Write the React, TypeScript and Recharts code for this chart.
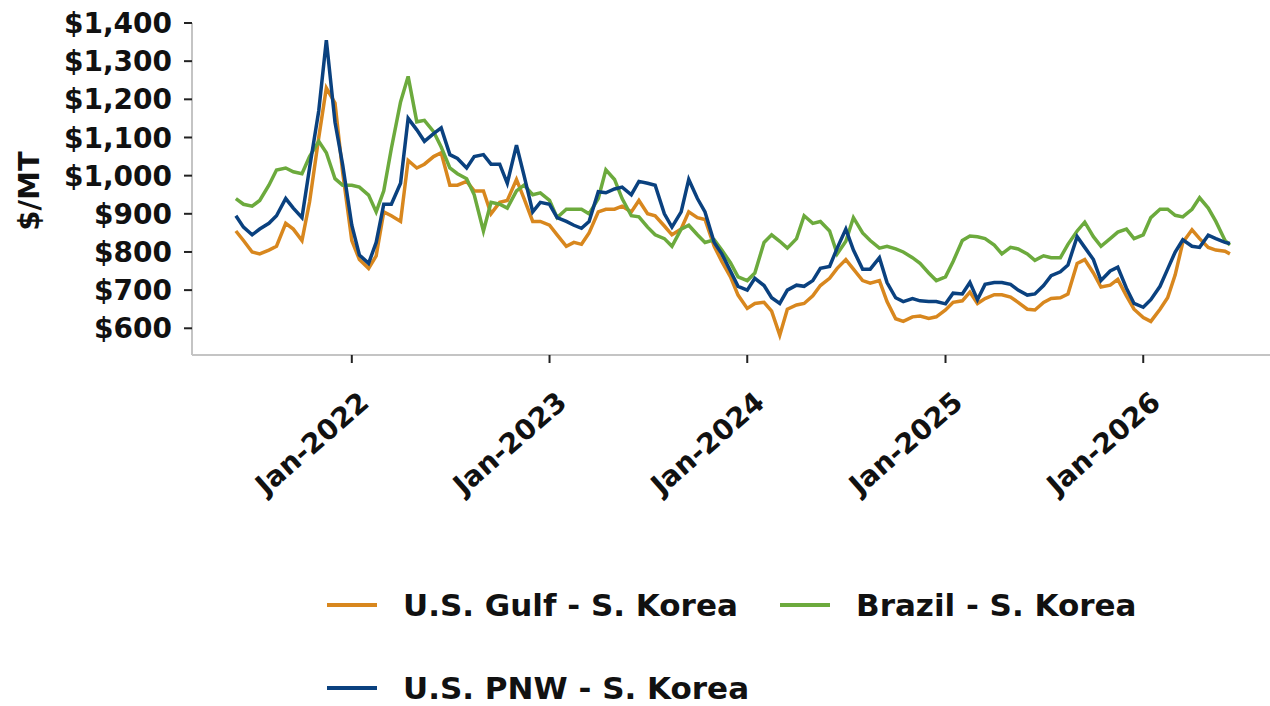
import React from 'react';
import { LineChart, Line, XAxis, YAxis, Label } from 'recharts';

const dates: string[] = [
  '2021-06-01','2021-06-15','2021-07-01','2021-07-15','2021-08-01','2021-08-15','2021-09-01','2021-09-15','2021-10-01','2021-10-15','2021-11-01','2021-11-15','2021-12-01','2021-12-15',
  '2022-01-01','2022-01-15','2022-02-01','2022-02-15','2022-03-01','2022-03-15','2022-04-01','2022-04-15','2022-05-01','2022-05-15','2022-06-01','2022-06-15','2022-07-01','2022-07-15','2022-08-01','2022-08-15','2022-09-01','2022-09-15','2022-10-01','2022-10-15','2022-11-01','2022-11-15','2022-12-01','2022-12-15',
  '2023-01-01','2023-01-15','2023-02-01','2023-02-15','2023-03-01','2023-03-15','2023-04-01','2023-04-15','2023-05-01','2023-05-15','2023-06-01','2023-06-15','2023-07-01','2023-07-15','2023-08-01','2023-08-15','2023-09-01','2023-09-15','2023-10-01','2023-10-15','2023-11-01','2023-11-15','2023-12-01','2023-12-15',
  '2024-01-01','2024-01-15','2024-02-01','2024-02-15','2024-03-01','2024-03-15','2024-04-01','2024-04-15','2024-05-01','2024-05-15','2024-06-01','2024-06-15','2024-07-01','2024-07-15','2024-08-01','2024-08-15','2024-09-01','2024-09-15','2024-10-01','2024-10-15','2024-11-01','2024-11-15','2024-12-01','2024-12-15',
  '2025-01-01','2025-01-15','2025-02-01','2025-02-15','2025-03-01','2025-03-15','2025-04-01','2025-04-15','2025-05-01','2025-05-15','2025-06-01','2025-06-15','2025-07-01','2025-07-15','2025-08-01','2025-08-15','2025-09-01','2025-09-15','2025-10-01','2025-10-15','2025-11-01','2025-11-15','2025-12-01','2025-12-15',
  '2026-01-01','2026-01-15','2026-02-01','2026-02-15','2026-03-01','2026-03-15','2026-04-01','2026-04-15','2026-05-01','2026-05-15','2026-06-01','2026-06-10',
];

const gulfKorea: number[] = [
  855, 830, 800, 795, 805, 815, 875, 860, 830, 931, 1100, 1230, 1190, 1010,
  830, 780, 757, 790, 905, 895, 880, 1040, 1020, 1030, 1050, 1060, 975, 975, 985, 960, 960, 900, 930, 935, 990, 940, 880, 880,
  870, 845, 815, 825, 820, 850, 905, 912, 912, 920, 905, 935, 900, 895, 868, 845, 860, 905, 890, 885, 815, 775, 735, 687,
  652, 665, 668, 645, 582, 650, 661, 665, 685, 712, 731, 757, 780, 755, 725, 718, 725, 670, 625, 618, 630, 632, 626, 630,
  648, 668, 672, 695, 665, 678, 688, 688, 682, 668, 650, 648, 668, 678, 680, 690, 770, 780, 745, 708, 713, 728, 685, 650,
  628, 618, 650, 680, 740, 825, 858, 835, 812, 805, 802, 795,
];

const brazilKorea: number[] = [
  940, 925, 920, 935, 975, 1015, 1020, 1010, 1005, 1050, 1090, 1060, 992, 975,
  975, 970, 949, 905, 960, 1071, 1193, 1260, 1141, 1145, 1115, 1075, 1020, 1005, 992, 950, 855, 930, 925, 915, 960, 975, 950, 955,
  935, 890, 912, 912, 912, 900, 940, 1015, 990, 940, 895, 892, 865, 845, 835, 815, 860, 870, 845, 825, 832, 805, 772, 735,
  725, 745, 825, 845, 828, 810, 835, 895, 875, 880, 855, 795, 828, 890, 850, 830, 810, 815, 808, 800, 785, 770, 745, 725,
  735, 775, 830, 842, 840, 835, 818, 795, 812, 808, 795, 778, 790, 785, 785, 820, 855, 878, 840, 815, 835, 852, 860, 835,
  845, 890, 912, 912, 896, 892, 912, 942, 915, 880, 830, 818,
];

const pnwKorea: number[] = [
  895, 865, 845, 860, 875, 895, 940, 915, 890, 1020, 1170, 1355, 1140, 1030,
  870, 792, 770, 825, 925, 925, 980, 1150, 1120, 1090, 1110, 1125, 1055, 1045, 1020, 1050, 1055, 1030, 1030, 980, 1080, 1000, 905, 930,
  925, 890, 880, 870, 862, 880, 958, 955, 965, 970, 950, 985, 980, 975, 900, 865, 905, 990, 940, 905, 825, 795, 750, 710,
  700, 731, 712, 680, 665, 700, 713, 710, 725, 757, 762, 810, 860, 805, 755, 755, 785, 720, 680, 670, 678, 672, 670, 670,
  664, 692, 690, 720, 675, 715, 720, 720, 715, 700, 687, 690, 712, 738, 748, 766, 840, 812, 780, 725, 750, 760, 705, 665,
  655, 675, 710, 755, 800, 832, 815, 812, 844, 835, 825, 822,
];

const yTicks: number[] = [600, 700, 800, 900, 1000, 1100, 1200, 1300, 1400];
const xTickDates: string[] = ['2022-01-01', '2023-01-01', '2024-01-01', '2025-01-01', '2026-01-01'];
const xDomainDates: string[] = ['2021-03-12', '2026-08-23'];
const yDomain: [number, number] = [530, 1400];

const series = [
  { key: 'gulf', name: 'U.S. Gulf - S. Korea', color: '#D8871E' },
  { key: 'brazil', name: 'Brazil - S. Korea', color: '#6CAA3D' },
  { key: 'pnw', name: 'U.S. PNW - S. Korea', color: '#0A417F' },
];

const ts = (d: string) => Date.parse(d + 'T00:00:00Z');

const data = dates.map((d, i) => ({
  t: ts(d),
  gulf: gulfKorea[i],
  brazil: brazilKorea[i],
  pnw: pnwKorea[i],
}));

const FONT = '"DejaVu Sans", Verdana, sans-serif';

const YTick = (props: any) => {
  const { x, y, payload } = props;
  return (
    <text x={x} y={y} dy="0.36em" textAnchor="end" fontFamily={FONT} fontWeight="bold" fontSize={28} fill="#111">
      {'$' + Number(payload.value).toLocaleString('en-US')}
    </text>
  );
};

const XTick = (props: any) => {
  const { x, y, payload } = props;
  const d = new Date(payload.value);
  const label = 'Jan-' + d.getUTCFullYear();
  return (
    <g transform={`translate(${x + 19},${y + 40})`}>
      <text textAnchor="end" transform="rotate(-41)" fontFamily={FONT} fontWeight="bold" fontSize={28} fill="#111">
        {label}
      </text>
    </g>
  );
};

const YLabel = () => (
  <text x={29} y={191} transform="rotate(-90 29 191)" textAnchor="middle" dominantBaseline="central"
    fontFamily={FONT} fontWeight="bold" fontSize={29} fill="#111">
    $/MT
  </text>
);

const legendRows = [
  [series[0], series[1]],
  [series[2]],
];

export default function App() {
  return (
    <div style={{ position: 'absolute', left: 0, top: 0, width: 1270, height: 706, background: '#fff' }}>
      <LineChart width={1270} height={706} data={data} margin={{ top: 23, right: 0, bottom: 0, left: 0 }}>
        <XAxis
          dataKey="t"
          type="number"
          scale="time"
          domain={[ts(xDomainDates[0]), ts(xDomainDates[1])]}
          ticks={xTickDates.map(ts)}
          tick={<XTick />}
          height={351}
          tickSize={8}
          axisLine={{ stroke: '#c4c4c4', strokeWidth: 2 }}
          tickLine={{ stroke: '#222', strokeWidth: 2 }}
          interval={0}
          allowDataOverflow
        />
        <YAxis
          type="number"
          domain={yDomain}
          ticks={yTicks}
          width={192}
          tickSize={8}
          tickMargin={12}
          tick={<YTick />}
          axisLine={{ stroke: '#c4c4c4', strokeWidth: 2 }}
          tickLine={{ stroke: '#222', strokeWidth: 2 }}
          interval={0}
          allowDataOverflow
        >
          <Label content={<YLabel />} />
        </YAxis>
        {series.map((s) => (
          <Line
            key={s.key}
            dataKey={s.key}
            name={s.name}
            stroke={s.color}
            strokeWidth={3.5}
            dot={false}
            type="linear"
            isAnimationActive={false}
          />
        ))}
      </LineChart>
      <div style={{ position: 'absolute', left: 327, top: 583, fontFamily: FONT, fontWeight: 'bold', fontSize: 31, color: '#111' }}>
        {legendRows.map((row, ri) => (
          <div key={ri} style={{ display: 'flex', height: 83, alignItems: 'flex-start' }}>
            {row.map((s, ci) => (
              <div key={s.key} style={{ display: 'flex', alignItems: 'center', width: ci === 0 ? 453 : 'auto', height: 44 }}>
                <span style={{ display: 'inline-block', width: 50, height: 4, background: s.color, marginRight: 26 }} />
                <span style={{ whiteSpace: 'nowrap', lineHeight: '44px' }}>{s.name}</span>
              </div>
            ))}
          </div>
        ))}
      </div>
    </div>
  );
}
